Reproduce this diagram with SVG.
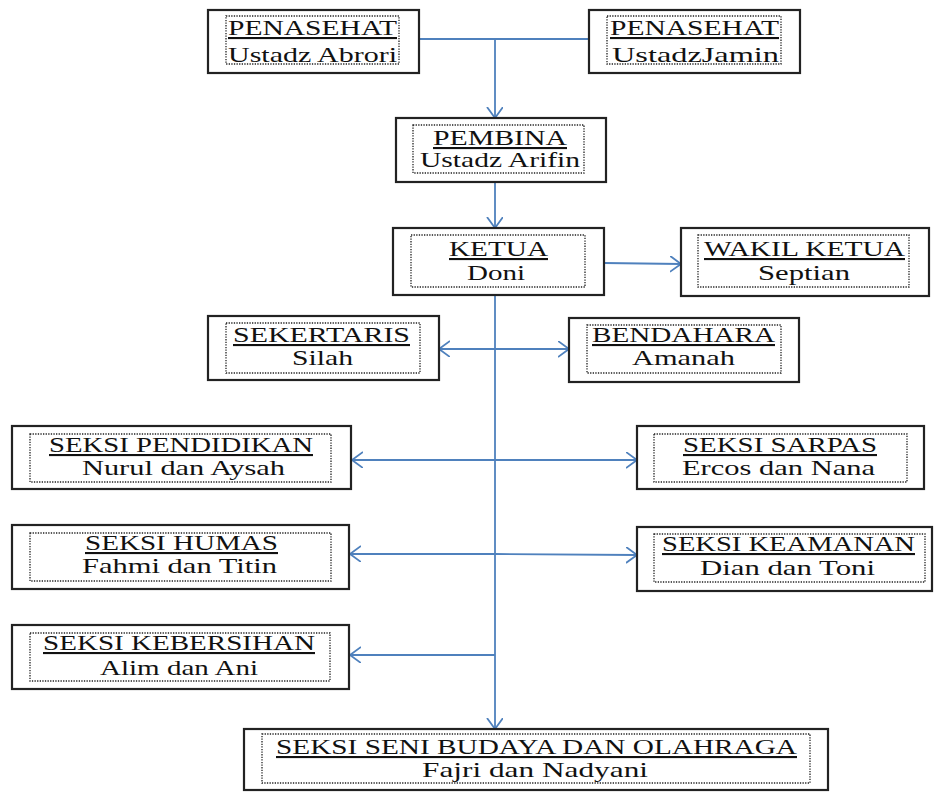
<svg xmlns="http://www.w3.org/2000/svg" width="934" height="792" viewBox="0 0 934 792">
<style>
.box{fill:#fff;stroke:#222;stroke-width:2.2}
.in{fill:none;stroke:#222;stroke-width:1.3;stroke-dasharray:1.3 1.3}
text{font-family:"Liberation Serif","Times New Roman",serif;font-size:21px;fill:#111}
.t{text-decoration:underline}
.c line{stroke:#4f81bd;stroke-width:1.8;fill:none}
.c .a{marker-end:url(#arr)}
</style>
<defs>
<marker id="arr" markerUnits="userSpaceOnUse" markerWidth="14" markerHeight="20" refX="11" refY="8" orient="auto" viewBox="0 0 14 20">
<path d="M0,0 L11,8 L0,16" fill="none" stroke="#4f81bd" stroke-width="1.8"/>
</marker>
</defs>
<rect width="934" height="792" fill="#fff"/>
<g class="c" id="connectors">
<line x1="419" y1="39" x2="589" y2="39"/>
<line class="a" x1="495" y1="39" x2="495" y2="118"/>
<line class="a" x1="495" y1="183" x2="495" y2="228"/>
<line class="a" x1="604" y1="263" x2="681" y2="264"/>
<line class="a" x1="495" y1="295" x2="495" y2="729"/>
<line class="a" x1="495" y1="349" x2="439" y2="349"/>
<line class="a" x1="495" y1="349" x2="569" y2="349"/>
<line class="a" x1="495" y1="460" x2="352" y2="460"/>
<line class="a" x1="495" y1="460" x2="637" y2="460"/>
<line class="a" x1="495" y1="554" x2="350" y2="554"/>
<line class="a" x1="495" y1="554" x2="637" y2="555"/>
<line class="a" x1="495" y1="655" x2="350" y2="655"/>
</g>
<g id="penasehat1">
<rect class="box" x="208" y="10" width="211" height="63"/>
<rect class="in" x="226" y="16" width="173" height="48"/>
<text class="t" x="228" y="35" textLength="169" lengthAdjust="spacingAndGlyphs">PENASEHAT</text>
<text x="228" y="62" textLength="169" lengthAdjust="spacingAndGlyphs">Ustadz Abrori</text>
</g>
<g id="penasehat2">
<rect class="box" x="589" y="10" width="211" height="63"/>
<rect class="in" x="607" y="16" width="174" height="48"/>
<text class="t" x="610" y="35" textLength="169" lengthAdjust="spacingAndGlyphs">PENASEHAT</text>
<text x="612" y="62" textLength="167" lengthAdjust="spacingAndGlyphs">UstadzJamin</text>
</g>
<g id="pembina">
<rect class="box" x="396" y="118" width="210" height="64"/>
<rect class="in" x="413" y="125" width="171" height="48"/>
<text class="t" x="433" y="145" textLength="134" lengthAdjust="spacingAndGlyphs">PEMBINA</text>
<text x="420" y="167" textLength="160" lengthAdjust="spacingAndGlyphs">Ustadz Arifin</text>
</g>
<g id="ketua">
<rect class="box" x="393" y="228" width="211" height="67"/>
<rect class="in" x="411" y="235" width="174" height="52"/>
<text class="t" x="449" y="256" textLength="99" lengthAdjust="spacingAndGlyphs">KETUA</text>
<text x="467" y="280" textLength="58" lengthAdjust="spacingAndGlyphs">Doni</text>
</g>
<g id="wakil-ketua">
<rect class="box" x="681" y="228" width="248" height="68"/>
<rect class="in" x="698" y="235" width="211" height="52"/>
<text class="t" x="704" y="256" textLength="201" lengthAdjust="spacingAndGlyphs">WAKIL KETUA</text>
<text x="758" y="280" textLength="92" lengthAdjust="spacingAndGlyphs">Septian</text>
</g>
<g id="sekertaris">
<rect class="box" x="208" y="316" width="231" height="64"/>
<rect class="in" x="226" y="323" width="194" height="50"/>
<text class="t" x="233" y="342" textLength="177" lengthAdjust="spacingAndGlyphs">SEKERTARIS</text>
<text x="292" y="365" textLength="61" lengthAdjust="spacingAndGlyphs">Silah</text>
</g>
<g id="bendahara">
<rect class="box" x="569" y="318" width="230" height="64"/>
<rect class="in" x="587" y="325" width="194" height="48"/>
<text class="t" x="592" y="342" textLength="183" lengthAdjust="spacingAndGlyphs">BENDAHARA</text>
<text x="632" y="365" textLength="103" lengthAdjust="spacingAndGlyphs">Amanah</text>
</g>
<g id="seksi-pendidikan">
<rect class="box" x="12" y="426" width="339" height="63"/>
<rect class="in" x="30" y="434" width="301" height="48"/>
<text class="t" x="49" y="452" textLength="264" lengthAdjust="spacingAndGlyphs">SEKSI PENDIDIKAN</text>
<text x="82" y="475" textLength="203" lengthAdjust="spacingAndGlyphs">Nurul dan Aysah</text>
</g>
<g id="seksi-sarpas">
<rect class="box" x="637" y="426" width="287" height="63"/>
<rect class="in" x="654" y="434" width="253" height="48"/>
<text class="t" x="683" y="452" textLength="194" lengthAdjust="spacingAndGlyphs">SEKSI SARPAS</text>
<text x="682" y="475" textLength="193" lengthAdjust="spacingAndGlyphs">Ercos dan Nana</text>
</g>
<g id="seksi-humas">
<rect class="box" x="12" y="525" width="337" height="64"/>
<rect class="in" x="30" y="533" width="301" height="48"/>
<text class="t" x="85" y="550" textLength="193" lengthAdjust="spacingAndGlyphs">SEKSI HUMAS</text>
<text x="82" y="573" textLength="195" lengthAdjust="spacingAndGlyphs">Fahmi dan Titin</text>
</g>
<g id="seksi-keamanan">
<rect class="box" x="637" y="527" width="295" height="64"/>
<rect class="in" x="654" y="534" width="271" height="48"/>
<text class="t" x="662" y="551" textLength="253" lengthAdjust="spacingAndGlyphs">SEKSI KEAMANAN</text>
<text x="700" y="575" textLength="175" lengthAdjust="spacingAndGlyphs">Dian dan Toni</text>
</g>
<g id="seksi-kebersihan">
<rect class="box" x="12" y="625" width="337" height="64"/>
<rect class="in" x="30" y="633" width="300" height="48"/>
<text class="t" x="43" y="650" textLength="272" lengthAdjust="spacingAndGlyphs">SEKSI KEBERSIHAN</text>
<text x="100" y="675" textLength="158" lengthAdjust="spacingAndGlyphs">Alim dan Ani</text>
</g>
<g id="seksi-seni-budaya">
<rect class="box" x="244" y="729" width="584" height="61"/>
<rect class="in" x="262" y="734" width="548" height="49"/>
<text class="t" x="276" y="754" textLength="521" lengthAdjust="spacingAndGlyphs">SEKSI SENI BUDAYA DAN OLAHRAGA</text>
<text x="422" y="777" textLength="226" lengthAdjust="spacingAndGlyphs">Fajri dan Nadyani</text>
</g>
</svg>
